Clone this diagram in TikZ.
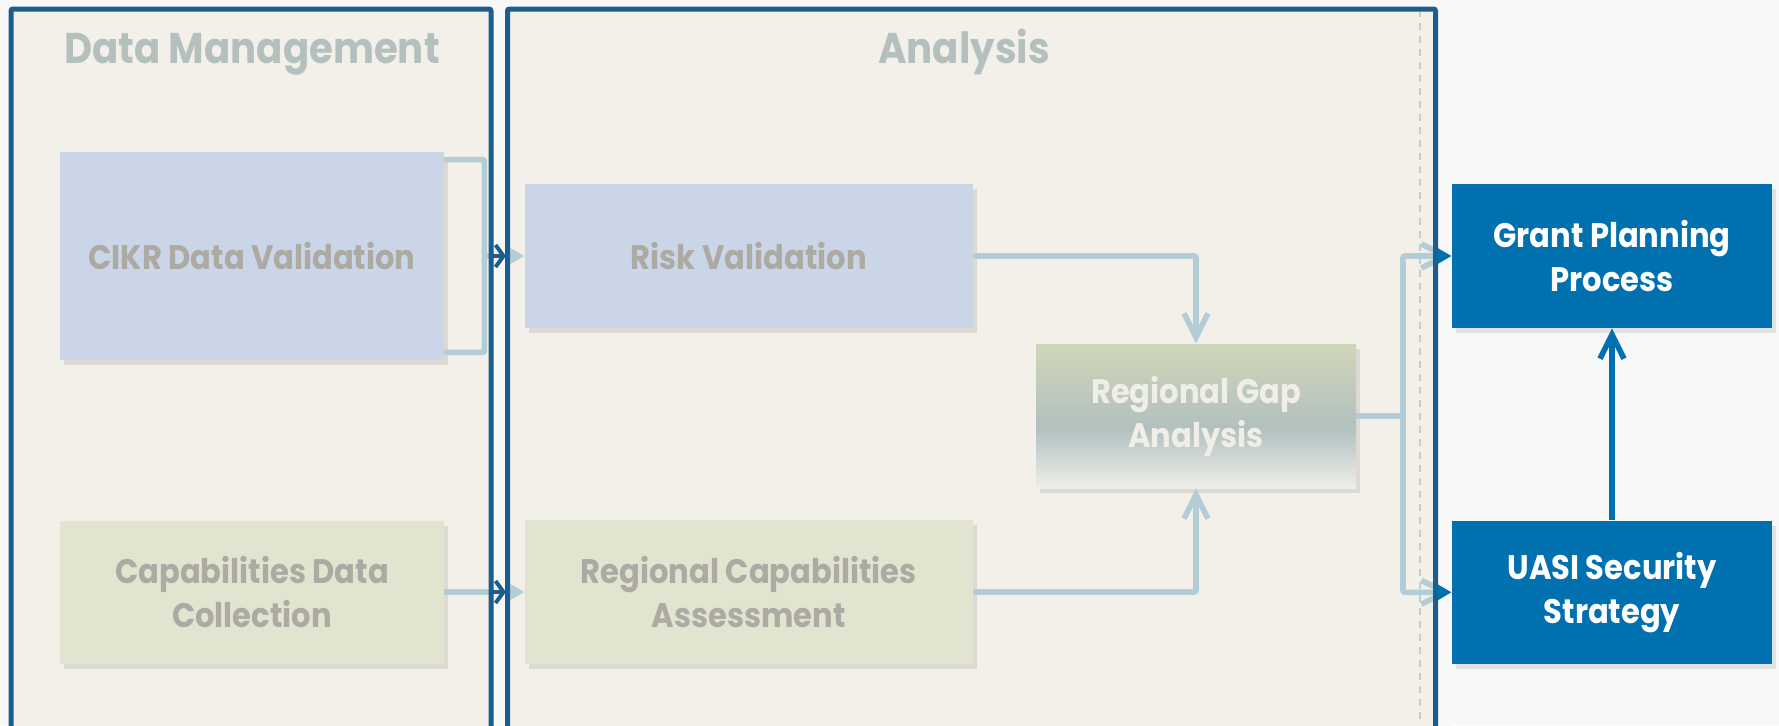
\documentclass[tikz,border=0pt]{standalone}
\usepackage{fontspec}
\setmainfont{Poppins}[FakeStretch=0.9]
\usetikzlibrary{arrows.meta,shadows,positioning}
\definecolor{pagebg}{HTML}{F8F8F8}
\definecolor{lanebg}{HTML}{F3F0E9}
\definecolor{laneline}{HTML}{1B5D8C}
\definecolor{lanetext}{HTML}{B4C0BE}
\definecolor{boxblue}{HTML}{CAD5E7}
\definecolor{boxgreen}{HTML}{E1E5CF}
\definecolor{boxtext}{HTML}{ACAAA2}
\definecolor{gaptop}{HTML}{D0D6B8}
\definecolor{gapmid}{HTML}{B2C0BF}
\definecolor{gapbot}{HTML}{EEEEE9}
\definecolor{gaptext}{HTML}{EFEEE7}
\definecolor{outblue}{HTML}{0070AF}
\definecolor{connlight}{HTML}{B2CDD5}
\definecolor{dashc}{HTML}{C5CDCC}
\pgfdeclareverticalshading{gapshade}{100bp}{color(0bp)=(gapbot); color(25bp)=(gapbot); color(46bp)=(gapmid); color(75bp)=(gaptop); color(100bp)=(gaptop)}

\begin{document}
\begin{tikzpicture}[x=0.5pt, y=-0.5pt,
    lanetitle/.style={anchor=base, text=lanetext, font=\bfseries\fontsize{21.5}{26}\selectfont},
    lanebox/.style={draw=laneline, line width=2.5pt, rounded corners=1pt},
    stage/.style={rectangle, inner sep=0pt, align=center, text=boxtext,
        font=\bfseries\fontsize{17}{22}\selectfont,
        drop shadow={shadow xshift=2pt, shadow yshift=-2.5pt, fill=black, opacity=0.09}},
    bigstage/.style={stage, minimum width=192pt, minimum height=104pt},
    leftstage/.style={stage, minimum width=192pt, minimum height=71.5pt},
    widestage/.style={stage, minimum width=224pt, minimum height=72pt},
    outstage/.style={stage, minimum width=160pt, minimum height=72pt},
    conn/.style={draw=connlight, line width=2.8pt, rounded corners=1pt},
    barb/.style={-{Straight Barb[length=12pt, width=12pt]}},
    tri/.style={-{Triangle[length=7pt, width=7.5pt]}},
    dk/.style={draw=laneline, line width=2pt}]

\useasboundingbox (0,0) rectangle (1779,725);
\fill[pagebg] (0,0) rectangle (1779,725);
\fill[lanebg] (11,9) rectangle (491,730);
\fill[lanebg] (507.5,9) rectangle (1435.5,730);
\draw[dashc, line width=0.6pt, dash pattern=on 3.5pt off 3pt] (1420,10) -- (1420,725);

\node[lanetitle] (dmtitle) at (252,63) {Data Management};
\node[lanetitle] (antitle) at (964,63) {Analysis};

\node[bigstage, fill=boxblue] (cikr) at (252,256) {CIKR Data Validation};
\node[widestage, fill=boxblue, right=40pt of cikr] (risk) {Risk Validation};
\node[leftstage, fill=boxgreen] (capab) at (252,592) {Capabilities Data\\Collection};
\node[widestage, fill=boxgreen, right=40pt of capab] (rca) {Regional Capabilities\\Assessment};
\node[outstage, shading=gapshade, text=gaptext] (gap) at (1196,416) {Regional Gap\\Analysis};
\node[outstage, fill=outblue, text=white] (grant) at (1612,256) {Grant Planning\\Process};
\node[outstage, fill=outblue, text=white, minimum height=71.5pt, below=96pt of grant] (uasi) {UASI Security\\Strategy};

\coordinate (brk) at ([xshift=20pt]cikr.east);
\coordinate (split) at (1403,416);
\coordinate (dmE) at (491,0);
\coordinate (gapA) at (506,0);
\coordinate (anE) at (1435.5,0);

\draw[conn] ([yshift=-4pt]cikr.north east) -| (brk) |- ([yshift=4pt]cikr.south east);
\draw[conn, tri] (brk) -- (risk);
\draw[conn, tri] (capab) -- (rca);
\draw[conn, barb] (risk) -| (gap);
\draw[conn, barb] (rca) -| (gap);
\draw[conn] (gap) -- (split);
\draw[conn, barb] (split) |- (grant);
\draw[conn, barb] (split) |- (uasi);

\fill[pagebg] (493.5,11) rectangle (505,730);
\fill[pagebg] (1438,11) rectangle (1452,730);
\draw[lanebox] (11,730) -- (11,9) -- (491,9) -- (491,730);
\draw[lanebox] (507.5,730) -- (507.5,9) -- (1435.5,9) -- (1435.5,730);

\draw[dk, -{Straight Barb[length=4pt, width=11pt]}] (dmE |- brk) -- (gapA |- brk);
\draw[dk, -{Straight Barb[length=4pt, width=11pt]}] (dmE |- rca) -- (gapA |- rca);
\draw[dk, draw=outblue, tri] (anE |- grant) -- (grant);
\draw[dk, draw=outblue, tri] (anE |- uasi) -- (uasi);
\draw[draw=outblue, line width=2.8pt, barb] (uasi) -- (grant);
\end{tikzpicture}
\end{document}
